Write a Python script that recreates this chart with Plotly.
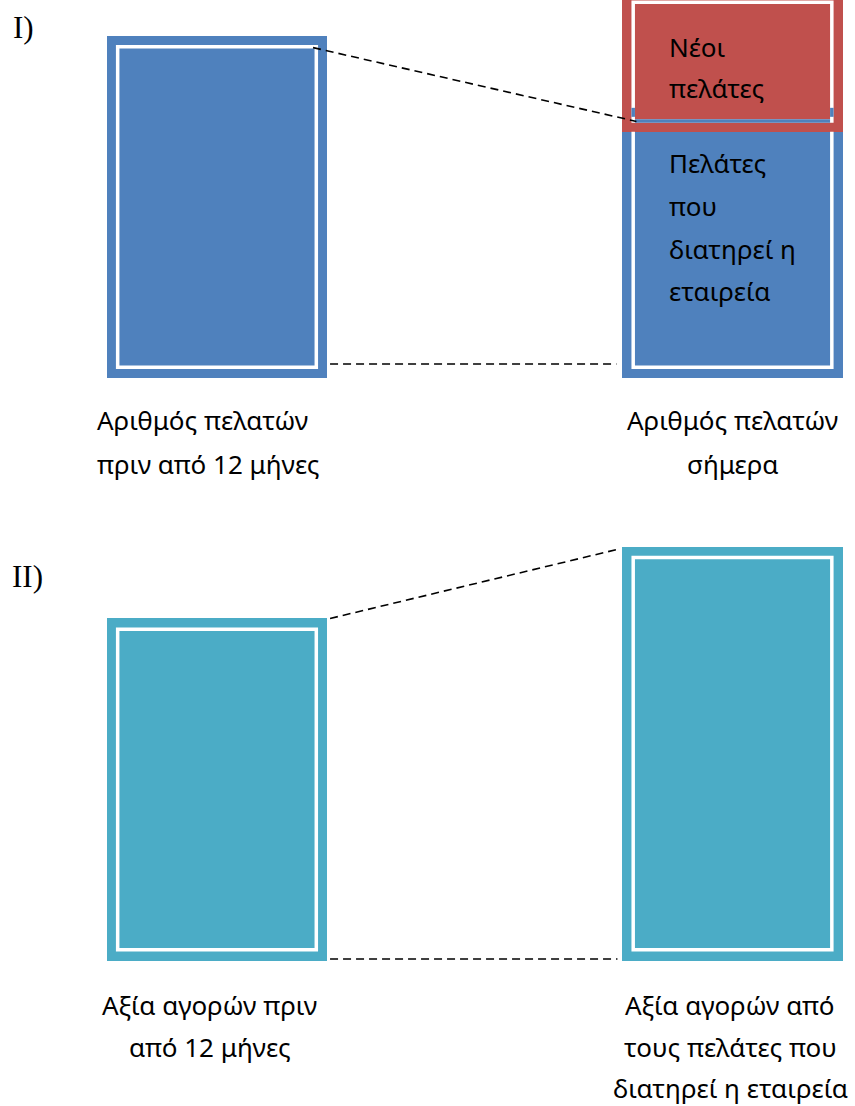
import plotly.graph_objects as go

# ---- figure size ----
FIG_W, FIG_H = 855, 1106

# ---- data (relative units, value 12 months ago = 100) ----
bar_positions = [0, 1]

# Panel I: number of customers
customers_before = 100
customers_retained = 79
new_customers_base = 72
new_customers = 41

# Panel II: value of purchases
value_before = 100
value_retained = 121

# ---- text ----
panel_titles = ["I)", "II)"]
label_I_left = ["Αριθμός πελατών", "πριν από 12 μήνες"]
label_I_right = ["Αριθμός πελατών", "σήμερα"]
label_new = ["Νέοι", "πελάτες"]
label_retained = ["Πελάτες", "που", "διατηρεί η", "εταιρεία"]
label_II_left = ["Αξία αγορών πριν", "από 12 μήνες"]
label_II_right = ["Αξία αγορών από", "τους πελάτες που", "διατηρεί η εταιρεία"]

# ---- style ----
BLUE = "#4F81BD"
RED = "#C0504D"
TEAL = "#4BACC6"
BAR_W = 0.427
X_RANGE = [-0.4209, 1.2376]
SPLIT = 1 - 540 / FIG_H
Y1_RANGE = [-47.37, 110.53]
Y2_RANGE = [-42.54, 122.95]
PX_X = FIG_W / (X_RANGE[1] - X_RANGE[0])
PX_Y = (FIG_H * (1 - SPLIT)) / (Y1_RANGE[1] - Y1_RANGE[0])

BORDER_PX = 9.0
GAP_PX = 3.5
INSET_PX = BORDER_PX + GAP_PX / 2
IX = INSET_PX / PX_X
IY = INSET_PX / PX_Y

FONT = "Noto Sans"
FS = 26
LINE_STEP = 12.7  # vertical distance between text lines, in y units
LINE_STEP_II = 12.25

fig = go.Figure()


def add_bar(x, top, base, color, xa, ya):
    fig.add_trace(go.Bar(
        x=[x], y=[top - base], base=[base], width=[BAR_W],
        marker=dict(color=color, line=dict(width=0)),
        xaxis=xa, yaxis=ya, showlegend=False, hoverinfo="skip",
    ))


# Panel I bars
add_bar(bar_positions[0], customers_before, 0, BLUE, "x", "y")
add_bar(bar_positions[1], customers_retained, 0, BLUE, "x", "y")
add_bar(bar_positions[1], new_customers_base + new_customers, new_customers_base, RED, "x", "y")
# Panel II bars
add_bar(bar_positions[0], value_before, 0, TEAL, "x2", "y2")
add_bar(bar_positions[1], value_retained, 0, TEAL, "x2", "y2")

shapes = []


def gap_rect(x, top, base, xref, yref, color="white"):
    x0 = x - BAR_W / 2 + IX
    x1 = x + BAR_W / 2 - IX
    shapes.append(dict(type="rect", xref=xref, yref=yref,
                       x0=x0, x1=x1, y0=base + IY, y1=top - IY,
                       line=dict(color=color, width=GAP_PX), fillcolor="rgba(0,0,0,0)"))


def seg(x0, y0, x1, y1, xref, yref, color, width, dash=None):
    line = dict(color=color, width=width)
    if dash:
        line["dash"] = dash
    shapes.append(dict(type="line", xref=xref, yref=yref,
                       x0=x0, y0=y0, x1=x1, y1=y1, line=line))


# inner white rings of the double borders
gap_rect(bar_positions[0], customers_before, 0, "x", "y")
gap_rect(bar_positions[0], value_before, 0, "x2", "y2")
gap_rect(bar_positions[1], value_retained, 0, "x2", "y2")

# retained-customers box: ring visible only below the new-customers box
xl = bar_positions[1] - BAR_W / 2 + IX
xr = bar_positions[1] + BAR_W / 2 - IX
shapes.append(dict(type="path", xref="x", yref="y",
                   path=f"M {xl},{new_customers_base} L {xl},{IY} L {xr},{IY} L {xr},{new_customers_base}",
                   line=dict(color="white", width=GAP_PX)))

# new-customers box ring; where it overlaps the blue box the blue shows through
red_top = new_customers_base + new_customers
gap_rect(bar_positions[1], red_top, new_customers_base, "x", "y")
blue_border_low = customers_retained - BORDER_PX / PX_Y
for xv in (xl, xr):
    seg(xv, customers_retained, xv, blue_border_low, "x", "y", BLUE, GAP_PX)
half_gap = (GAP_PX / 2) / PX_X
seg(xl + half_gap, new_customers_base + IY, xr - half_gap, new_customers_base + IY,
    "x", "y", BLUE, GAP_PX)

# dashed connector lines
DASH = "8px,5px"
edge_l = bar_positions[0] + BAR_W / 2
edge_r = bar_positions[1] - BAR_W / 2
seg(edge_l - 14 / PX_X, customers_before - 11.6 / PX_Y,
    edge_r + 14 / PX_X, customers_retained - 13.6 / PX_Y, "x", "y", "black", 1.6, DASH)
seg(edge_l + 3 / PX_X, 14 / PX_Y, edge_r - 6 / PX_X, 14 / PX_Y, "x", "y", "black", 1.6, DASH)
seg(edge_l + 3 / PX_X, value_before, edge_r - 2 / PX_X, value_retained - 2 / PX_Y,
    "x2", "y2", "black", 1.6, DASH)
seg(edge_l + 3 / PX_X, 1.5 / PX_Y, edge_r - 5 / PX_X, 1.5 / PX_Y, "x2", "y2", "black", 1.6, DASH)

annotations = []


def text(s, x, y, xref, yref, xanchor="center", size=FS, family=FONT):
    annotations.append(dict(text=s, x=x, y=y, xref=xref, yref=yref,
                            xanchor=xanchor, yanchor="middle", showarrow=False,
                            font=dict(family=family, size=size, color="black")))


# panel titles
text(panel_titles[0], 11 / FIG_W, 1 - 27 / FIG_H, "paper", "paper", "left", 31, "Liberation Serif")
text(panel_titles[1], 10 / FIG_W, 1 - 576 / FIG_H, "paper", "paper", "left", 31, "Liberation Serif")

# labels under panel I bars
left_text_x = bar_positions[0] - BAR_W / 2 - 12 / PX_X
for i, s in enumerate(label_I_left):
    text(s, left_text_x, -12.3 - i * LINE_STEP, "x", "y", "left")
for i, s in enumerate(label_I_right):
    text(s, bar_positions[1], -12.3 - i * LINE_STEP, "x", "y")

# labels inside the panel I right box
inner_x = bar_positions[1] - BAR_W / 2 + 45 / PX_X
for i, s in enumerate(label_new):
    text(s, inner_x, 96.9 - i * 12.0, "x", "y", "left")
for i, s in enumerate(label_retained):
    text(s, inner_x, 62.8 - i * 12.5, "x", "y", "left")

# labels under panel II bars
for i, s in enumerate(label_II_left):
    text(s, bar_positions[0] - 7 / PX_X, -12.9 - i * LINE_STEP_II, "x2", "y2")
for i, s in enumerate(label_II_right):
    text(s, bar_positions[1] - 2.5 / PX_X, -12.9 - i * LINE_STEP_II, "x2", "y2")

axis_common = dict(visible=False, showgrid=False, zeroline=False, fixedrange=True)
fig.update_layout(
    width=FIG_W, height=FIG_H,
    margin=dict(l=0, r=0, t=0, b=0),
    paper_bgcolor="white", plot_bgcolor="rgba(0,0,0,0)",
    barmode="overlay", bargap=0,
    showlegend=False,
    xaxis=dict(range=X_RANGE, domain=[0, 1], anchor="y", **axis_common),
    yaxis=dict(range=Y1_RANGE, domain=[SPLIT, 1], anchor="x", **axis_common),
    xaxis2=dict(range=X_RANGE, domain=[0, 1], anchor="y2", **axis_common),
    yaxis2=dict(range=Y2_RANGE, domain=[0, SPLIT], anchor="x2", **axis_common),
    shapes=shapes,
    annotations=annotations,
)

fig.write_html("out.html")
